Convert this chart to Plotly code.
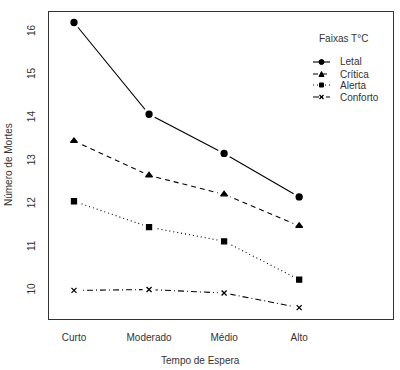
import plotly.graph_objects as go

categories = ["Curto", "Moderado", "Médio", "Alto"]
letal = [16.22, 14.09, 13.18, 12.17]
critica = [13.47, 12.67, 12.23, 11.50]
alerta = [12.07, 11.47, 11.14, 10.25]
conforto = [10.00, 10.02, 9.94, 9.60]
y_ticks = [10, 11, 12, 13, 14, 15, 16]
series_names = ["Letal", "Crítica", "Alerta", "Conforto"]
legend_title = "Faixas T°C"

W, H = 400, 370
L, R, T, B = 49, 7, 12, 51
PW, PH = W - L - R, H - T - B

def px(x):
    return (x - L) / PW

def py(y):
    return 1 - (y - T) / PH

styles = [
    dict(dash="solid", symbol="circle", size=6),
    dict(dash="5px,4px", symbol="triangle-up", size=6),
    dict(dash="1px,3px", symbol="square", size=5),
    dict(dash="6px,3px,1px,3px", symbol="x-thin-open", size=5),
]

xpos = [1, 2, 3, 4]
fig = go.Figure()
for name, vals, st in zip(series_names, [letal, critica, alerta, conforto], styles):
    fig.add_trace(go.Scatter(
        x=xpos, y=vals, name=name, mode="lines", showlegend=False, hoverinfo="skip",
        line=dict(color="black", width=1.1, dash=st["dash"]),
    ))
    # white halo to mimic R type="b" gaps around points
    fig.add_trace(go.Scatter(
        x=xpos, y=vals, mode="markers", showlegend=False, hoverinfo="skip",
        marker=dict(symbol="circle", size=13, color="white", line=dict(width=0)),
    ))
    fig.add_trace(go.Scatter(
        x=xpos, y=vals, name=name, mode="markers", showlegend=False,
        marker=dict(symbol=st["symbol"], size=st["size"], color="black",
                    line=dict(color="black", width=1.3)),
    ))

font = dict(family="Liberation Sans, Arial, sans-serif", size=10, color="#333")

# manual legend (R style)
shapes = []
annotations = []
annotations.append(dict(text=legend_title, x=px(343), y=py(38), xref="paper", yref="paper",
                        showarrow=False, font=font, xanchor="center", yanchor="middle"))
leg_y = [62, 74, 85, 97]
for name, st, yy in zip(series_names, styles, leg_y):
    shapes.append(dict(type="line", xref="paper", yref="paper",
                       x0=px(313), x1=px(330), y0=py(yy), y1=py(yy),
                       line=dict(color="black", width=1.1, dash=st["dash"])))
    annotations.append(dict(text=name, x=px(338), y=py(yy), xref="paper", yref="paper",
                            showarrow=False, font=font, xanchor="left", yanchor="middle"))
# legend markers
cx = 321.5
s = 2.5
shapes.append(dict(type="circle", xref="paper", yref="paper", fillcolor="black",
                   line=dict(color="black", width=1),
                   x0=px(cx - s), x1=px(cx + s), y0=py(leg_y[0] - s), y1=py(leg_y[0] + s)))
shapes.append(dict(type="path", xref="paper", yref="paper", fillcolor="black",
                   line=dict(color="black", width=1),
                   path=f"M {px(cx - s)} {py(leg_y[1] + s)} L {px(cx + s)} {py(leg_y[1] + s)} L {px(cx)} {py(leg_y[1] - s)} Z"))
shapes.append(dict(type="rect", xref="paper", yref="paper", fillcolor="black",
                   line=dict(color="black", width=1),
                   x0=px(cx - 2), x1=px(cx + 2), y0=py(leg_y[2] - 2), y1=py(leg_y[2] + 2)))
for a, b in [(-2, 2), (2, -2)]:
    shapes.append(dict(type="line", xref="paper", yref="paper",
                       line=dict(color="black", width=1.2),
                       x0=px(cx - 2), x1=px(cx + 2), y0=py(leg_y[3] + a), y1=py(leg_y[3] + b)))

# axis titles
annotations.append(dict(text="Tempo de Espera", x=px(200), y=py(360), xref="paper", yref="paper",
                        showarrow=False, font=font, xanchor="center", yanchor="middle"))
annotations.append(dict(text="Número de Mortes", x=px(8), y=py(165), xref="paper", yref="paper",
                        showarrow=False, font=font, xanchor="center", yanchor="middle",
                        textangle=-90))

fig.update_layout(
    width=W, height=H,
    margin=dict(l=L, r=R, t=T, b=B),
    paper_bgcolor="white", plot_bgcolor="white",
    font=font,
    showlegend=False,
    shapes=shapes,
    annotations=annotations,
    xaxis=dict(
        range=[0.667, 5.25], tickmode="array", tickvals=xpos, ticktext=categories,
        showgrid=False, zeroline=False, showline=True, mirror=True, automargin=False,
        linecolor="#333", linewidth=1, ticks="", ticklabelstandoff=9,
    ),
    yaxis=dict(
        range=[9.336, 16.464], tickmode="array", tickvals=y_ticks,
        showgrid=False, zeroline=False, showline=True, mirror=True, automargin=False,
        linecolor="#333", linewidth=1, ticks="", tickangle=-90, ticklabelstandoff=9,
    ),
)

fig.write_html("out.html", config={"displayModeBar": False},
               post_script="document.body.style.margin='0';")
